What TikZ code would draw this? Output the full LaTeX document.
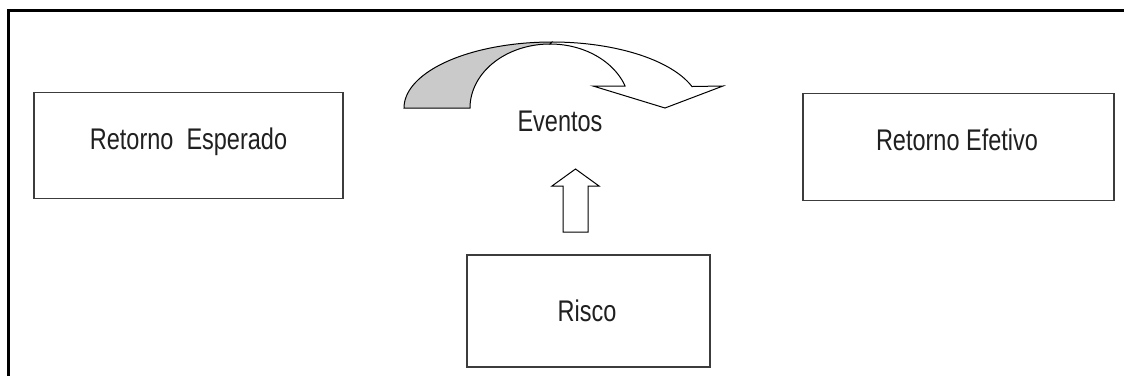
\documentclass[tikz,border=0pt]{standalone}
\usepackage{fontspec}
\setmainfont{Liberation Sans}
\definecolor{boxline}{HTML}{3C3C3C}
\definecolor{txt}{HTML}{202020}
\definecolor{backgray}{HTML}{CACACA}
\begin{document}
\begin{tikzpicture}[x=1pt,y=-1pt,
  box/.style={draw=boxline, line width=1.3pt, rectangle, inner sep=0pt, fill=white},
  lbl/.style={anchor=base, inner sep=0pt, text=txt, font=\fontsize{23.5}{28}\selectfont},
  blockarrow/.style={draw=black, line width=1pt, line join=miter}
  ]
\useasboundingbox (0,0) rectangle (1124,375);
\fill[white] (0,0) rectangle (1124,375);
% frame
\draw[line width=3pt] (8,380) -- (8,10) -- (1130,10);
% boxes
\node[box, minimum width=309pt, minimum height=106pt] (esp) at (188.5,145.7) {};
\node[box, minimum width=311pt, minimum height=107pt] (efe) at (958.5,147) {};
\node[box, minimum width=243pt, minimum height=112pt] (risco) at (588.5,311) {};
% labels
\node[lbl] (tesp) at (188.5,149.5) {\scalebox{1}[1.27]{Retorno~ Esperado}};
\node[lbl] (tefe) at (957,150) {\scalebox{1}[1.27]{Retorno Efetivo}};
\node[lbl] (trisco) at (587,321) {\scalebox{1}[1.27]{Risco}};
\node[lbl] (evt) at (560,131.7) {\scalebox{1}[1.27]{Eventos}};
% up block arrow from Risco toward Eventos
\draw[blockarrow, fill=white] (563,232) -- (563,186) -- (552,186) -- (575.5,169) -- (599,186) -- (588,186) -- (588,232) -- cycle;
% curved arrow: shaded back part
\draw[blockarrow, fill=backgray]
  plot[domain=180:90, samples=60] ({552+148*cos(\x)}, {108-66*sin(\x)})
  -- plot[domain=90:180, samples=60] ({550+80*cos(\x)}, {108-64*sin(\x)})
  -- cycle;
% curved arrow: front part with head
\draw[blockarrow, fill=white]
  plot[domain=90:19, samples=60] ({552+148*cos(\x)}, {108-66*sin(\x)})
  -- (723,86) -- (665,108) -- (593,86) -- (625,86)
  -- plot[domain=20.4:90, samples=60] ({550+80*cos(\x)}, {108-64*sin(\x)})
  -- cycle;
\end{tikzpicture}
\end{document}
